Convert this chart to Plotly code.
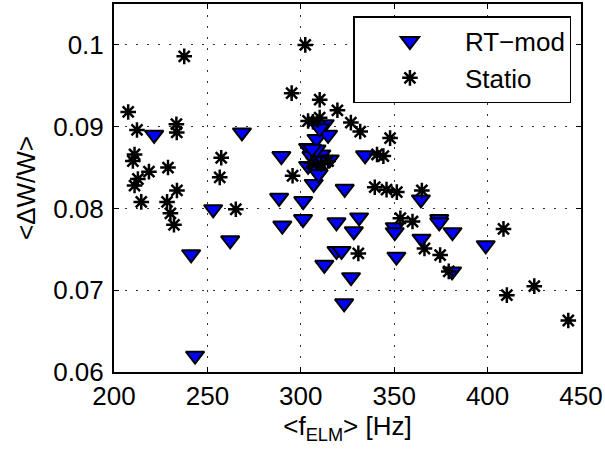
import plotly.graph_objects as go

# RT-mod series (f_ELM [Hz], <dW/W>)
rt_x = [221.5, 268.5, 241.3, 243.4, 253.1, 262.2, 289.6, 288.4, 290.1, 301.3,
        301.2, 303.9, 305.7, 303.9, 308.4, 312.8, 314.6, 311.0, 315.5, 308.4,
        306.9, 323.5, 334.4, 319.1, 331.2, 328.4, 319.1, 321.8, 312.6, 326.9,
        323.2, 350.3, 350.3, 351.2, 364.3, 364.6, 374.1, 374.1, 381.2, 381.0,
        399.0, 308.4, 310.1, 309.5, 306.0, 310.2]
rt_y = [0.0890, 0.0893, 0.0744, 0.0620, 0.0799, 0.0761, 0.0864, 0.0813, 0.0779, 0.0809,
        0.0787, 0.0874, 0.0864, 0.0852, 0.0885, 0.0903, 0.0890, 0.0866, 0.0860, 0.0846,
        0.0830, 0.0824, 0.0865, 0.0783, 0.0789, 0.0772, 0.0748, 0.0748, 0.0731, 0.0716,
        0.0684, 0.0777, 0.0771, 0.0741, 0.0811, 0.0763, 0.0787, 0.0783, 0.0771, 0.0723,
        0.0755, 0.0872, 0.0858, 0.0842, 0.0873, 0.0898]

# Statio series
st_x = [207.6, 212.3, 211.0, 210.1, 212.8, 211.0, 214.6, 218.7, 228.9, 228.4,
        230.2, 232.1, 233.4, 233.6, 233.7, 237.6, 257.4, 256.6, 265.2, 295.1,
        295.6, 302.4, 310.1, 303.9, 310.1, 319.6, 326.8, 331.8, 347.8, 340.8,
        344.2, 339.6, 345.9, 351.4, 364.8, 353.3, 359.8, 366.2, 374.6, 379.2,
        408.5, 410.3, 425.0, 443.2, 330.8, 305.7, 311.0, 314.6, 306.5]
st_y = [0.0918, 0.0896, 0.0866, 0.0858, 0.0836, 0.0828, 0.0808, 0.0845, 0.0850, 0.0808,
        0.0794, 0.0780, 0.0903, 0.0893, 0.0822, 0.0986, 0.0862, 0.0838, 0.0799, 0.0941,
        0.0840, 0.1000, 0.0933, 0.0907, 0.0911, 0.0920, 0.0905, 0.0894, 0.0886, 0.0866,
        0.0864, 0.0826, 0.0823, 0.0820, 0.0822, 0.0788, 0.0784, 0.0751, 0.0743, 0.0723,
        0.0775, 0.0694, 0.0705, 0.0663, 0.0745, 0.0856, 0.0854, 0.0858, 0.0906]

x_ticks = [200, 250, 300, 350, 400, 450]
y_ticks = [0.06, 0.07, 0.08, 0.09, 0.1]
y_ticktext = ["0.06", "0.07", "0.08", "0.09", "0.1"]

FONT = "Liberation Sans, Arial, Helvetica, sans-serif"

fig = go.Figure()
fig.add_trace(go.Scatter(
    x=rt_x, y=rt_y, mode="markers", name="RT\u2212mod",
    marker=dict(symbol="triangle-down", size=16, color="#0000FF",
                line=dict(color="black", width=2)),
))
fig.add_trace(go.Scatter(
    x=st_x, y=st_y, mode="markers", name="Statio",
    marker=dict(symbol="asterisk-open", size=13, color="black",
                line=dict(color="black", width=2.5)),
))

axis_common = dict(
    showline=True, linecolor="black", linewidth=2, mirror="ticks",
    ticks="inside", ticklen=5, tickwidth=1, tickcolor="black",
    showgrid=True, gridcolor="#333333", gridwidth=1, griddash="2px,9px",
    zeroline=False,
    tickfont=dict(family=FONT, size=26, color="black"),
)

fig.update_xaxes(
    range=[200, 450], tickvals=x_ticks, ticktext=[str(v) for v in x_ticks],
    title=dict(text="&lt;f<sub>ELM</sub>&gt; [Hz]", font=dict(family=FONT, size=26, color="black"),
               standoff=0),
    ticklabelstandoff=0,
    **axis_common,
)
fig.update_yaxes(
    range=[0.06, 0.105], tickvals=y_ticks, ticktext=y_ticktext,
    title=dict(text="&lt;\u0394W/W&gt;", font=dict(family=FONT, size=26, color="black"),
               standoff=10),
    ticklabelstandoff=3,
    **axis_common,
)

fig.update_layout(
    width=605, height=452,
    margin=dict(l=114, r=23, t=2, b=80),
    paper_bgcolor="white", plot_bgcolor="white",
    font=dict(family=FONT, size=26, color="black"),
    showlegend=True,
    legend=dict(
        x=0.5127, y=0.967, xanchor="left", yanchor="top",
        bgcolor="white", bordercolor="black", borderwidth=1.5,
        font=dict(family=FONT, size=26, color="black"),
        itemwidth=100, tracegroupgap=0,
    ),
)

fig.write_html("out.html")
